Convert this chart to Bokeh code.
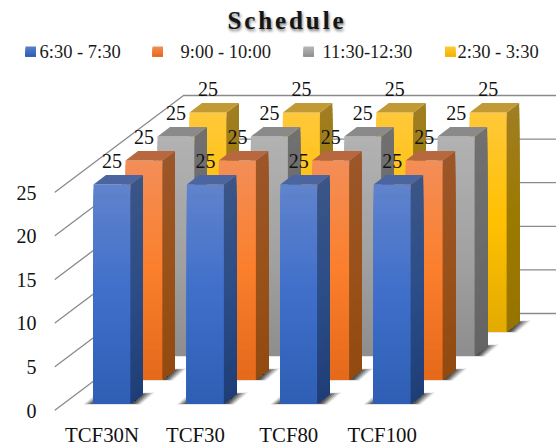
from bokeh.plotting import figure
from bokeh.models import ColumnDataSource, Range1d, FixedTicker, Div
from bokeh.layouts import column
from bokeh.core.properties import value
from bokeh.embed import file_html
from bokeh.resources import INLINE

# Chart data
categories = ["TCF30N", "TCF30", "TCF80", "TCF100"]
series_names = ["6:30 - 7:30", "9:00 - 10:00", "11:30-12:30", "2:30 - 3:30"]
slot_0630 = [25, 25, 25, 25]
slot_0900 = [25, 25, 25, 25]
slot_1130 = [25, 25, 25, 25]
slot_0230 = [25, 25, 25, 25]
y_ticks = [0, 5, 10, 15, 20, 25]
series_values = [slot_0630, slot_0900, slot_1130, slot_0230]

# Scales: pixels per category and pixels per value unit
PX_X = 93.4
PX_Y = 8.72
X0_PX = 101.5
Y0_PX = 410.0
HEAD_H = 36
LEGEND_H = 28
TOP_PX = HEAD_H + LEGEND_H
BOTTOM_PX = 411
LEFT_PX = 54
SERIF = "Liberation Serif"


def ux(dx):
    return dx / PX_X


def uy(dy):
    return dy / PX_Y


def hex_rgb(h):
    return tuple(int(h[i:i + 2], 16) for i in (1, 3, 5))


def blend(stops, t):
    n = len(stops) - 1
    k = min(int(t * n), n - 1)
    f = t * n - k
    a, b = hex_rgb(stops[k]), hex_rgb(stops[k + 1])
    return "#%02x%02x%02x" % tuple(round(a[i] + (b[i] - a[i]) * f) for i in range(3))


# Face colours for each series, from top of the bar to its foot
front_faces = [
    ["#6083cc", "#3f6fca", "#2e5fb4"],
    ["#f38e58", "#fb7f2c", "#e4691a"],
    ["#b2b2b2", "#a3a3a3", "#8e8e8e"],
    ["#ffc83a", "#ffc000", "#e3ab00"],
]
side_faces = [
    ["#3b5587", "#2c4d87", "#1f3e78"],
    ["#9c5629", "#99521b", "#924a10"],
    ["#707070", "#6c6c6c", "#646464"],
    ["#a07e22", "#9c7a00", "#967400"],
]
top_faces = ["#4a659f", "#b8683f", "#8a8a8a", "#c19a35"]
swatch_faces = [
    ["#5b80cb", "#2e5fb4"],
    ["#f38e58", "#e4691a"],
    ["#b8b8b8", "#8e8e8e"],
    ["#ffc83a", "#f0b400"],
]

BAR_W = ux(37)
DEPTH_X = ux(12.5)
DEPTH_Y = uy(9.5)
SER_X = ux(32)
SER_Y = uy(24)
START_X = ux(93 - X0_PX)
FLOOR = uy(7)
BAR_STRETCH = 1.0046  # front of the box sits slightly nearer than the walls
BANDS = 44

xs, ys, fills, alphas = [], [], [], []


def add(px, py, color, alpha=1.0):
    xs.append(px)
    ys.append(py)
    fills.append(color)
    alphas.append(alpha)


# Painter's order: rear series first
for s in range(3, -1, -1):
    for c, v in enumerate(series_values[s]):
        left = c + START_X + s * SER_X
        right = left + BAR_W
        foot = FLOOR + s * SER_Y
        height = v * BAR_STRETCH
        top = foot + height

        # soft shadow cast on the floor
        for inset, a in [(0, 0.14), (2, 0.22), (4, 0.30), (6, 0.36), (8, 0.40)]:
            i = ux(inset)
            add([left - ux(10) + i, right + ux(10) - i * 0.8, right + ux(24) - i * 1.4, left + ux(4) + i],
                [foot - uy(1) + uy(inset * 0.1), foot - uy(1) + uy(inset * 0.1), foot + uy(11) - uy(inset * 0.2), foot + uy(11) - uy(inset * 0.2)],
                "#2a2a2a", a)

        # Gradient: each band reaches down to the foot, the next one paints over it
        for b in range(BANDS):
            t0 = b / BANDS
            y_hi = top - height * t0
            tm = (b + 0.5) / BANDS
            add([left, right, right, left], [foot, foot, y_hi, y_hi], blend(front_faces[s], tm))
            add([right, right + DEPTH_X, right + DEPTH_X, right],
                [foot, foot + DEPTH_Y, y_hi + DEPTH_Y, y_hi], blend(side_faces[s], tm))

        # top face
        add([left, right, right + DEPTH_X, left + DEPTH_X],
            [top, top, top + DEPTH_Y, top + DEPTH_Y], top_faces[s])

x_start = ux(LEFT_PX - X0_PX)
x_end = ux(556 - X0_PX)
y_start = uy(Y0_PX - BOTTOM_PX)
y_end = uy(Y0_PX - TOP_PX)

p = figure(
    width=556, height=448 - TOP_PX,
    x_range=Range1d(x_start, x_end), y_range=Range1d(y_start, y_end),
    output_backend="svg", toolbar_location=None,
    min_border_left=LEFT_PX, min_border_right=0, min_border_top=0,
    min_border_bottom=448 - BOTTOM_PX,
    outline_line_color=None, background_fill_color="white", border_fill_color="white",
    frame_align=False,
)
p.grid.visible = False

# Axes carry the value and category labels only
for ax in (p.xaxis[0], p.yaxis[0]):
    ax.axis_line_color = None
    ax.major_tick_line_color = None
    ax.minor_tick_line_color = None
    ax.major_tick_out = 0
    ax.major_tick_in = 0
    ax.minor_tick_out = 0
    ax.minor_tick_in = 0
    ax.major_label_text_font = SERIF
    ax.major_label_text_color = "#111111"
p.yaxis[0].ticker = FixedTicker(ticks=y_ticks)
p.yaxis[0].major_label_text_font_size = "20px"
p.yaxis[0].major_label_standoff = 18
p.xaxis[0].ticker = FixedTicker(ticks=list(range(len(categories))))
p.xaxis[0].major_label_overrides = {i: c for i, c in enumerate(categories)}
p.xaxis[0].major_label_text_font_size = "20.8px"
p.xaxis[0].major_label_standoff = 11

# Walls: gridlines run up the side wall, then along the back wall
wall_dx = ux(129)
wall_dy = uy(97)
p.multi_line(
    [[x_start, x_start + wall_dx, x_end] for _ in y_ticks],
    [[t, t + wall_dy, t + wall_dy] for t in y_ticks],
    line_color="#8a8a8a", line_width=1.3,
)

# Bars
p.patches(
    "xs", "ys",
    source=ColumnDataSource(dict(xs=xs, ys=ys, fill=fills, a=alphas)),
    fill_color="fill", fill_alpha="a", line_color=None,
)

# Value labels above each bar
lx, ly, lt = [], [], []
for s in range(4):
    for c, v in enumerate(series_values[s]):
        lx.append(c + START_X + s * SER_X + BAR_W / 2)
        ly.append(FLOOR + s * SER_Y + v + uy(25))
        lt.append(str(v))
p.text(lx, ly, text=lt, text_font=value(SERIF), text_font_size="20px",
       text_align="center", text_baseline="middle", text_color="#111111")

# Legend row, in its own strip above the plot; coordinates run in page pixels
legend = figure(
    width=556, height=LEGEND_H,
    x_range=Range1d(0, 556), y_range=Range1d(HEAD_H + LEGEND_H, HEAD_H),
    output_backend="svg", toolbar_location=None,
    min_border_left=0, min_border_right=0, min_border_top=0, min_border_bottom=0,
    outline_line_color=None, background_fill_color="white", border_fill_color="white",
    frame_align=False,
)
legend.axis.visible = False
legend.grid.visible = False
swatch_px = [25, 152, 303, 444.5]
label_px = [39, 180, 322, 457]
LEGEND_Y = 51
for s, name in enumerate(series_names):
    n = 8
    for b in range(n):
        col = blend(swatch_faces[s], (b + .5) / n)
        legend.quad(left=swatch_px[s], right=swatch_px[s] + 10.5, top=LEGEND_Y - 5 + 10 * b / n,
                    bottom=LEGEND_Y + 5, fill_color=col, line_color=None)
    legend.text([label_px[s]], [LEGEND_Y], text=[name], text_font=value(SERIF),
                text_font_size="18.5px", text_align="left", text_baseline="middle", text_color="#1a1a1a")

heading = Div(
    text="Schedule", width=556, height=HEAD_H,
    styles={
        "font-family": "'Liberation Serif'", "font-weight": "bold", "font-size": "25px",
        "letter-spacing": "2.9px", "color": "#151515", "text-align": "center",
        "text-shadow": "1px 2px 3px rgba(0,0,0,0.55)",
        "width": "556px", "padding-left": "18px", "padding-top": "7px", "box-sizing": "border-box", "margin": "0",
        "line-height": "28px",
    },
)
page = column(heading, legend, p, spacing=0)
open("out.html", "w").write(file_html(page, INLINE))
